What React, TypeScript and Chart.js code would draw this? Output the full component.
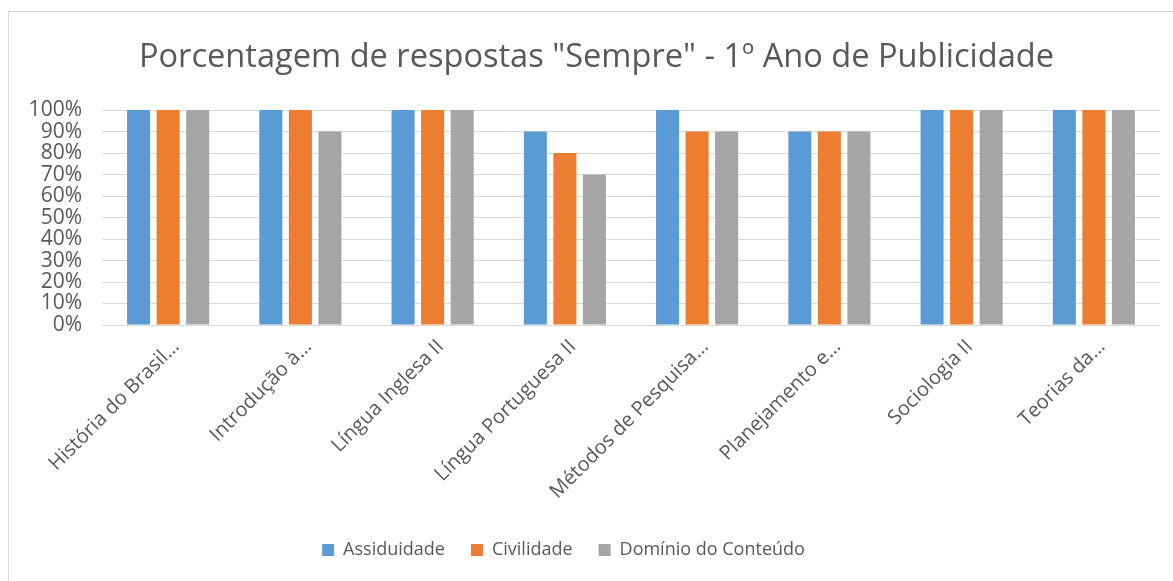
import React, { useEffect, useRef } from "react";
import { Chart, registerables } from "chart.js";

Chart.register(...registerables);

const TITLE = 'Porcentagem de respostas "Sempre" - 1º Ano de Publicidade';
const categories = [
  "História do Brasil…",
  "Introdução à…",
  "Língua Inglesa II",
  "Língua Portuguesa II",
  "Métodos de Pesquisa…",
  "Planejamento e…",
  "Sociologia II",
  "Teorias da…",
];
const assiduidade = [100, 100, 100, 90, 100, 90, 100, 100];
const civilidade = [100, 100, 100, 80, 90, 90, 100, 100];
const dominio = [100, 90, 100, 70, 90, 90, 100, 100];

const FONT = "'Open Sans', 'Noto Sans', sans-serif";
const TEXT = "#595959";

const boxShift = {
  id: "boxShift",
  afterLayout(chart: any) {
    const lg = chart.legend;
    if (lg) {
      lg.left -= 21;
      lg.right -= 21;
    }
    const tb = chart.titleBlock;
    if (tb) {
      tb.left += 12;
      tb.right += 12;
    }
  },
};

export default function App() {
  const ref = useRef<HTMLCanvasElement | null>(null);
  useEffect(() => {
    if (!ref.current) return;
    const chart = new Chart(ref.current, {
      type: "bar",
      data: {
        labels: categories,
        datasets: [
          { label: "Assiduidade", data: assiduidade, backgroundColor: "#5B9BD5" },
          { label: "Civilidade", data: civilidade, backgroundColor: "#ED7D31" },
          { label: "Domínio do Conteúdo", data: dominio, backgroundColor: "#A5A5A5" },
        ],
      },
      plugins: [boxShift],
      options: {
        responsive: false,
        animation: false,
        datasets: { bar: { categoryPercentage: 0.67, barPercentage: 0.78 } },
        layout: { padding: { left: 0, right: 25, top: 0, bottom: 12 } },
        plugins: {
          title: {
            display: true,
            text: TITLE,
            color: TEXT,
            font: { family: FONT, size: 32.6, weight: "normal" },
            padding: { top: 26, bottom: 33 },
          },
          legend: {
            position: "bottom",
            labels: {
              color: TEXT,
              font: { family: FONT, size: 18 },
              boxWidth: 12,
              boxHeight: 12,
              padding: 26,
            },
          },
          tooltip: { enabled: false },
        },
        scales: {
          x: {
            grid: { display: false, drawTicks: false },
            border: { display: false },
            ticks: {
              color: TEXT,
              font: { family: FONT, size: 20 },
              minRotation: 45,
              maxRotation: 45,
              autoSkip: false,
              padding: 10,
              labelOffset: 8,
            },
            afterFit: (s: any) => {
              s.height = 190;
            },
          },
          y: {
            min: 0,
            max: 100,
            grid: { color: "#d9d9d9", lineWidth: 1, drawTicks: false },
            border: { display: false },
            ticks: {
              stepSize: 10,
              autoSkip: false,
              color: TEXT,
              font: { family: FONT, size: 21 },
              padding: 20,
              callback: (v: any) => v + "%",
            },
            afterFit: (s: any) => {
              s.width = 93;
            },
          },
        },
      },
    });
    return () => chart.destroy();
  }, []);
  return (
    <div
      style={{
        position: "fixed",
        left: 8,
        top: 11,
        width: 1165,
        height: 570,
        overflow: "hidden",
        borderLeft: "1px solid #d9d9d9",
        borderTop: "1px solid #d9d9d9",
        boxSizing: "border-box",
        background: "#fff",
      }}
    >
      <canvas ref={ref} width={1176} height={569} style={{ display: "block" }} />
    </div>
  );
}
